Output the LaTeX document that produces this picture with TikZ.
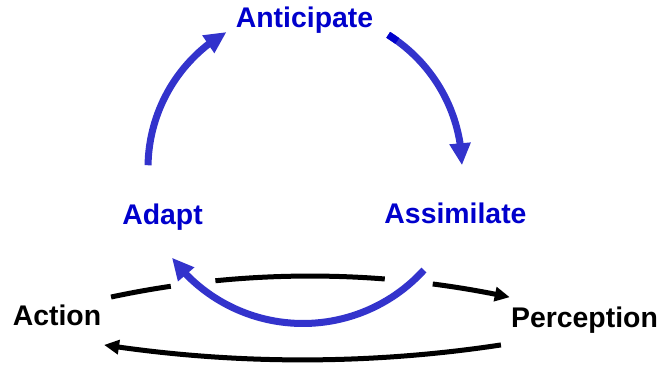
\documentclass[tikz,border=0pt]{standalone}
\usepackage{fontspec}
\setmainfont{Liberation Sans}
\usetikzlibrary{arrows.meta,bending}
\definecolor{loopblue}{RGB}{51,51,204}
\definecolor{wordblue}{RGB}{0,0,204}
\tikzset{
  word/.style={font=\bfseries\fontsize{28.4}{34}\selectfont, inner sep=0pt, anchor=base},
  blueword/.style={word, text=wordblue},
  bluearc/.style={line width=7pt, draw=loopblue, -{Triangle[length=22pt,width=20pt]}},
  blackarc/.style={line width=5pt, draw=black},
  blackhead/.style={-{Triangle[length=15pt,width=14pt]}},
}

\begin{document}
\begin{tikzpicture}[x=1pt,y=1pt]
  \useasboundingbox (0,0) rectangle (661,369);
  \node[blueword] (anticipate) at (304.5,341) {Anticipate};
  \node[blueword] (adapt) at (162.5,144) {Adapt};
  \node[blueword] (assimilate) at (455.5,145) {Assimilate};
  \node[word] (action) at (57,43) {Action};
  \node[word] (perception) at (584.5,41) {Perception};
  % centres of the arcs
  \coordinate (upper) at (305,201);
  \coordinate (lower) at (303,209);
  \coordinate (over) at (310,-860);
  \coordinate (under) at (302.5,1330);
  % action -> perception, broken where the blue arc crosses
  \draw[blackarc] ([shift={(102.05:953)}]over) arc[start angle=102.05, end angle=98.4, radius=953];
  \draw[blackarc] ([shift={(95.7:953)}]over) arc[start angle=95.7, end angle=85.5, radius=953];
  \draw[blackarc,blackhead] ([shift={(82.6:953)}]over) arc[start angle=82.6, end angle=77.9, radius=953];
  % perception -> action
  \draw[blackarc,blackhead] ([shift={(-81.36:1321)}]under) arc[start angle=-81.36, end angle=-98.64, radius=1321];
  % the blue loop
  \draw[bluearc] ([shift={(179:157)}]upper) arc[start angle=179, end angle=120, radius=157];
  \draw[bluearc] ([shift={(58:157)}]upper) arc[start angle=58, end angle=1, radius=157];
  \draw[line width=7pt, wordblue] ([shift={(58:157)}]upper) arc[start angle=58, end angle=54, radius=157];
  \draw[bluearc] ([shift={(-42.3:163.5)}]lower) arc[start angle=-42.3, end angle=-143.3, radius=163.5];
\end{tikzpicture}
\end{document}
